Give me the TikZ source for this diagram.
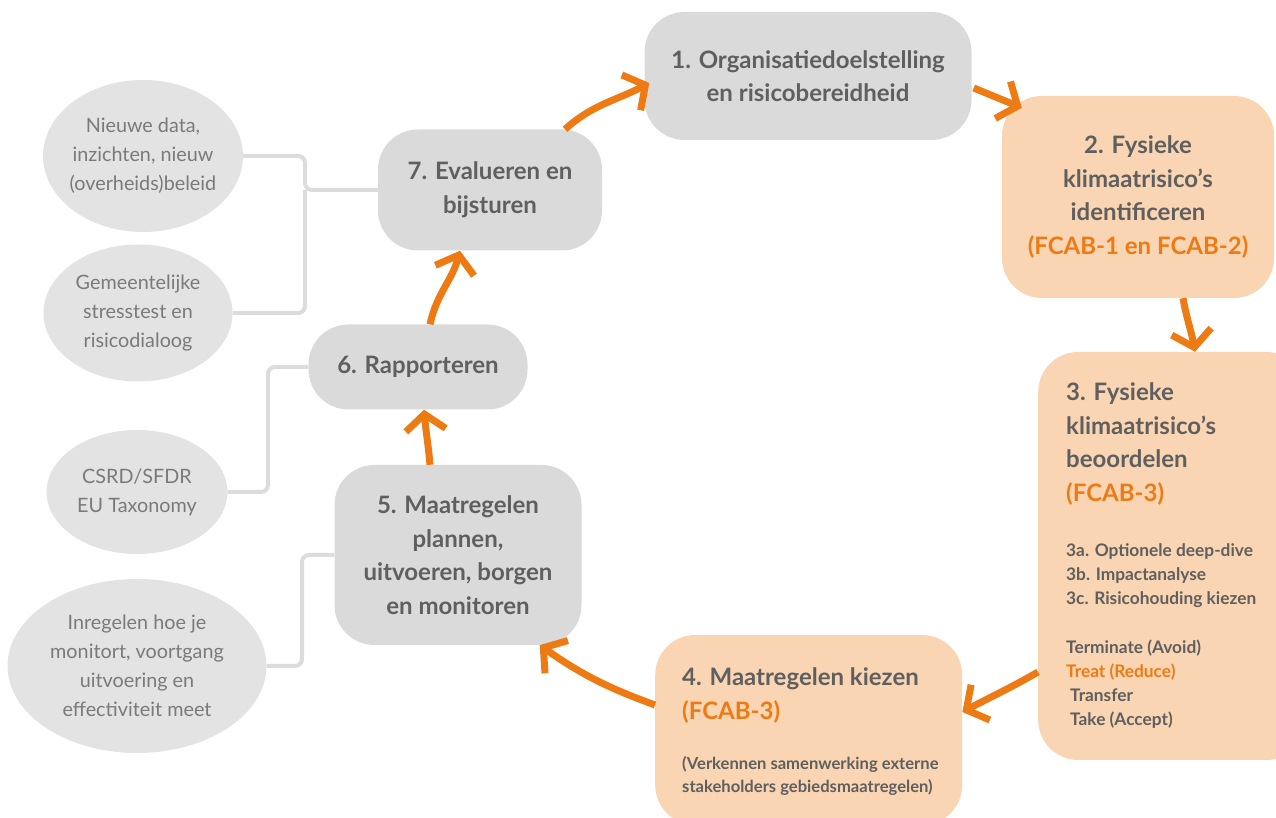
\documentclass[tikz,border=0pt]{standalone}
\usepackage{fontspec}
\setmainfont{Lato}
\usetikzlibrary{arrows.meta,shapes.geometric,positioning}

\definecolor{boxgray}{HTML}{DADADA}
\definecolor{bubblegray}{HTML}{E3E3E3}
\definecolor{peach}{HTML}{F9D5B3}
\definecolor{fcab}{HTML}{EE7A14}
\definecolor{txtgray}{HTML}{5F5F5F}
\definecolor{softtxt}{HTML}{7A7A7A}
\definecolor{linkgray}{HTML}{DCDCDC}

\newcommand{\bigtxt}{\fontsize{24}{33.5}\selectfont}
\newcommand{\smalltxt}{\fontsize{17.3}{24}\selectfont}

\begin{document}
\begin{tikzpicture}[x=1pt,y=1pt,
        stage/.style={rectangle, rounded corners=40pt, fill=boxgray, text=txtgray, align=center,
            font=\bfseries\bigtxt},
        fcabstage/.style={stage, fill=peach},
        bubble/.style={ellipse, fill=bubblegray, text=softtxt, align=center,
            inner xsep=-30pt, inner ysep=-20pt, font=\fontsize{19.8}{29}\selectfont},
        link/.style={draw=linkgray, line width=4pt, rounded corners=7pt},
        flow/.style={draw=fcab, line width=7pt, -{Straight Barb[length=16pt,width=40pt]}}
    ]
    \useasboundingbox (0,0) rectangle (1276,818);

    \node[stage, minimum width=327pt, minimum height=128pt] (org) at (808,742)
        {1. Organisatiedoelstelling\\en risicobereidheid};
    \node[fcabstage, minimum width=272pt, minimum height=202pt] (ident) at (1138,621)
        {2. Fysieke\\klimaatrisico’s\\identificeren\\\textcolor{fcab}{(FCAB-1 en FCAB-2)}};
    \node[fcabstage, anchor=west, inner xsep=28pt, minimum width=240pt, minimum height=408pt] (assess) at (1038,262)
        {\begin{minipage}[c][346pt][t]{212pt}\raggedright
            3. Fysieke\\klimaatrisico’s\\beoordelen\\\textcolor{fcab}{(FCAB-3)}\par
            \vspace{31pt}\smalltxt
            3a. Optionele deep-dive\\3b. Impactanalyse\\3c. Risicohouding kiezen\par
            \vspace{25pt}
            Terminate (Avoid)\\\textcolor{fcab}{Treat (Reduce)}\\\hspace*{4pt}Transfer\\\hspace*{4pt}Take (Accept)\par
        \end{minipage}};
    \node[fcabstage, anchor=west, inner xsep=27pt, minimum width=307pt, minimum height=190pt] (choose) at (655,88)
        {\begin{minipage}[c][124pt][t]{253pt}\raggedright
            4. Maatregelen kiezen\\\textcolor{fcab}{(FCAB-3)}\par
            \vspace{27pt}\fontsize{16.6}{23}\selectfont
            \mbox{(Verkennen samenwerking externe}\\\mbox{stakeholders gebiedsmaatregelen)}\par
        \end{minipage}};
    \node[stage, minimum width=247pt, minimum height=180pt] (plan) at (458,263)
        {5. Maatregelen\\plannen,\\uitvoeren, borgen\\en monitoren};
    \node[stage, minimum width=219pt, minimum height=85pt] (report) at (418,451) {6. Rapporteren};
    \node[stage, minimum width=224pt, minimum height=121pt] (eval) at (490,628)
        {7. Evalueren en\\bijsturen};

    \node[bubble, minimum width=200pt, minimum height=152pt] (news) at (143,662)
        {Nieuwe data,\\inzichten, nieuw\\(overheids)beleid};
    \node[bubble, minimum width=189pt, minimum height=137pt] (stress) at (138,505)
        {Gemeentelijke\\stresstest en\\risicodialoog};
    \node[bubble, minimum width=181pt, minimum height=124pt] (csrd) at (137,326)
        {CSRD/SFDR\\EU Taxonomy};
    \node[bubble, minimum width=259pt, minimum height=174pt] (monitor) at (137,152)
        {Inregelen hoe je\\monitort, voortgang\\uitvoering en\\effectiviteit meet};

    \coordinate (evaljoin) at (305,628);
    \coordinate (reportjoin) at (268,451);
    \coordinate (planjoin) at (302,263);
    \draw[link] (news.east) -| (evaljoin) -- (eval.west);
    \draw[link] (stress.east) -| (evaljoin);
    \draw[link] (csrd.east) -| (reportjoin) -- (report.west);
    \draw[link] (monitor.east) -| (planjoin) -- (plan.west);

    \draw[flow] ([shift={(75,0)}]eval.north) to[out=42,in=208] ([shift={(5,-7)}]org.west);
    \draw[flow] ([shift={(2,-12)}]org.east) -- ([shift={(20,-12)}]ident.north west);
    \draw[flow] ([shift={(45,0)}]ident.south) to[out=-80,in=100] ([shift={(157,0)}]assess.north west);
    \draw[flow] ([shift={(0,-116)}]assess.west) to[out=210,in=28] ([shift={(0,18)}]choose.east);
    \draw[flow] ([shift={(0,25)}]choose.west) to[out=160,in=-35] ([shift={(-42,0)}]plan.south east);
    \draw[flow] ([shift={(-28,0)}]plan.north) to[out=95,in=-85] ([shift={(6,0)}]report.south);
    \draw[flow] ([shift={(12,0)}]report.north) to[out=78,in=-105] ([shift={(-30,0)}]eval.south);
\end{tikzpicture}
\end{document}
